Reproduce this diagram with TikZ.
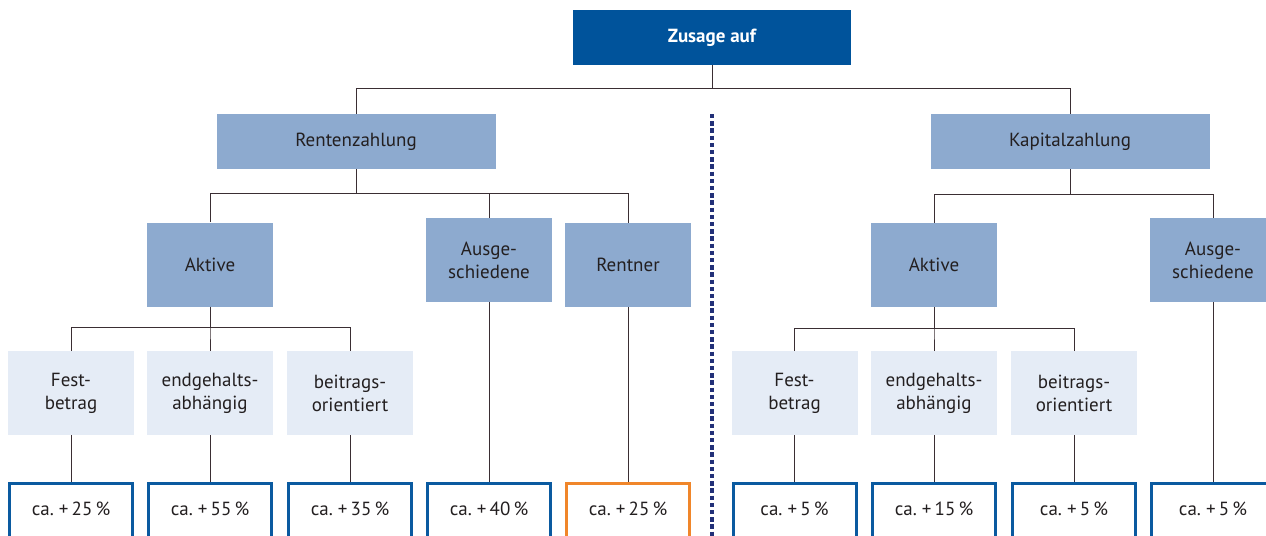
\documentclass[tikz,border=0pt]{standalone}
\usepackage{fontspec}
\setmainfont{PT Sans}
\definecolor{zblue}{HTML}{00539B}
\definecolor{mblue}{HTML}{8DAACF}
\definecolor{lblue}{HTML}{E5ECF6}
\definecolor{rblue}{HTML}{0A5AA0}
\definecolor{rorange}{HTML}{F0862A}
\definecolor{lnk}{HTML}{3A2E33}
\definecolor{divblue}{HTML}{223078}
\definecolor{txt}{HTML}{231F20}
\begin{document}
\begin{tikzpicture}
          [x=0.5pt,y=-0.5pt,font=\fontsize{9.5}{11.5}\selectfont,
           box/.style={inner sep=0pt,align=center,text=txt},
           head/.style={box,fill=zblue,text=white,font=\fontsize{9.5}{11.5}\selectfont\bfseries,
                        minimum width=139pt,minimum height=27.5pt},
           wide/.style={box,fill=mblue,minimum width=139.5pt,minimum height=27.5pt},
           mid/.style={box,fill=mblue,minimum width=63pt,minimum height=42pt},
           leaf/.style={box,fill=lblue,minimum width=63pt,minimum height=42pt},
           res/.style={box,draw=rblue,line width=1.5pt,minimum width=61.5pt,anchor=north,
                       text height=15.75pt,text depth=25pt},
           link/.style={draw=lnk,line width=0.5pt}]
          \useasboundingbox (0,0) rectangle (1266,536);
          \clip (0,0) rectangle (1266,536);

          \node[head] (zusage) at (712,37.5) {Zusage auf};
          \node[wide] (renten) at (356,141.5) {Rentenzahlung};
          \node[wide] (kapital) at (1070,141.5) {Kapitalzahlung};

          \node[mid] (aktR) at (210,264.5) {Aktive};
          \node[mid] (ausR) at (489,260) {Ausge-\\schiedene};
          \node[mid] (rent) at (628,265) {Rentner};
          \node[mid] (aktK) at (934,265) {Aktive};
          \node[mid] (ausK) at (1213,260) {Ausge-\\schiedene};

          \node[leaf] (festR) at (71,393) {Fest-\\betrag};
          \node[leaf] (endR) at (210,393) {endgehalts-\\abhängig};
          \node[leaf] (beitR) at (350,393) {beitrags-\\orientiert};
          \node[leaf] (festK) at (794.5,393) {Fest-\\betrag};
          \node[leaf] (endK) at (934,393) {endgehalts-\\abhängig};
          \node[leaf] (beitK) at (1074,393) {beitrags-\\orientiert};

          \node[res] (rfestR) at (71,482) {ca.~+\,25\,\%};
          \node[res] (rendR) at (210,482) {ca.~+\,55\,\%};
          \node[res] (rbeitR) at (350,482) {ca.~+\,35\,\%};
          \node[res] (rausR) at (489,482) {ca.~+\,40\,\%};
          \node[res,draw=rorange] (rrent) at (628,482) {ca.~+\,25\,\%};
          \node[res] (rfestK) at (794.5,482) {ca.~+\,5\,\%};
          \node[res] (rendK) at (934,482) {ca.~+\,15\,\%};
          \node[res] (rbeitK) at (1074,482) {ca.~+\,5\,\%};
          \node[res] (rausK) at (1213,482) {ca.~+\,5\,\%};

          \foreach \from/\to/\drop in {zusage/renten/23,zusage/kapital/23,
              renten/aktR/24,renten/ausR/24,renten/rent/24,kapital/aktK/25,kapital/ausK/25,
              aktR/festR/21,aktR/endR/21,aktR/beitR/21,aktK/festK/21,aktK/endK/21,aktK/beitK/21}
            \draw[link] (\from.south) -- ++(0,\drop) -| (\to.north);

          \foreach \from/\to in {festR/rfestR,endR/rendR,beitR/rbeitR,ausR/rausR,rent/rrent,
              festK/rfestK,endK/rendK,beitK/rbeitK,ausK/rausK}
            \draw[link] (\from) -- (\to);

          \coordinate (divtop) at (712,114);
          \coordinate (divbot) at (712,536);
          \draw[divblue,line width=1.8pt,dash pattern=on 2.2pt off 1.4pt] (divtop) -- (divbot);

        \end{tikzpicture}
\end{document}
